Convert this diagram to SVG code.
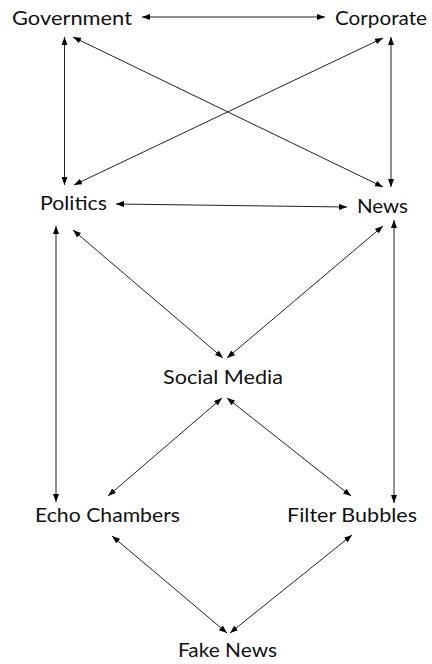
<svg xmlns="http://www.w3.org/2000/svg" width="432" height="664" viewBox="0 0 432 664">
<style>
.t{font-family:Lato,"Open Sans","Liberation Sans",sans-serif;font-size:19px;fill:#111}
.c line{stroke:#222;stroke-width:1;marker-start:url(#ah);marker-end:url(#ah)}
</style>
<defs>
<marker id="ah" markerUnits="userSpaceOnUse" viewBox="0 0 8 6" refX="8" refY="3" markerWidth="8" markerHeight="6" orient="auto-start-reverse">
<path d="M0,0L8,3L0,6z" fill="#000"/>
</marker>
</defs>
<rect width="432" height="664" fill="#fff"/>
<g class="c" id="connectors">
<line x1="142" y1="17" x2="325" y2="17"/>
<line x1="64.5" y1="37" x2="64.5" y2="185"/>
<line x1="391" y1="37" x2="391" y2="187"/>
<line x1="73" y1="37" x2="383" y2="187"/>
<line x1="383" y1="38" x2="74" y2="185"/>
<line x1="116" y1="204" x2="347" y2="207"/>
<line x1="56" y1="226" x2="56" y2="502"/>
<line x1="394" y1="220" x2="394" y2="503"/>
<line x1="73" y1="230" x2="223" y2="358"/>
<line x1="383" y1="226" x2="227" y2="358"/>
<line x1="222" y1="398" x2="108" y2="496"/>
<line x1="227" y1="398" x2="351" y2="496"/>
<line x1="112" y1="536" x2="227" y2="633"/>
<line x1="352" y1="535" x2="230" y2="633"/>
</g>
<g id="government"><text class="t" x="12" y="25" textLength="120" lengthAdjust="spacingAndGlyphs">Government</text></g>
<g id="corporate"><text class="t" x="335" y="25" textLength="92" lengthAdjust="spacingAndGlyphs">Corporate</text></g>
<g id="politics"><text class="t" x="40" y="210" textLength="67" lengthAdjust="spacingAndGlyphs">Politics</text></g>
<g id="news"><text class="t" x="357" y="213" textLength="51" lengthAdjust="spacingAndGlyphs">News</text></g>
<g id="social-media"><text class="t" x="163" y="384" textLength="120" lengthAdjust="spacingAndGlyphs">Social Media</text></g>
<g id="echo-chambers"><text class="t" x="35" y="522" textLength="145" lengthAdjust="spacingAndGlyphs">Echo Chambers</text></g>
<g id="filter-bubbles"><text class="t" x="287" y="522" textLength="130" lengthAdjust="spacingAndGlyphs">Filter Bubbles</text></g>
<g id="fake-news"><text class="t" x="178" y="657" textLength="99" lengthAdjust="spacingAndGlyphs">Fake News</text></g>
</svg>
